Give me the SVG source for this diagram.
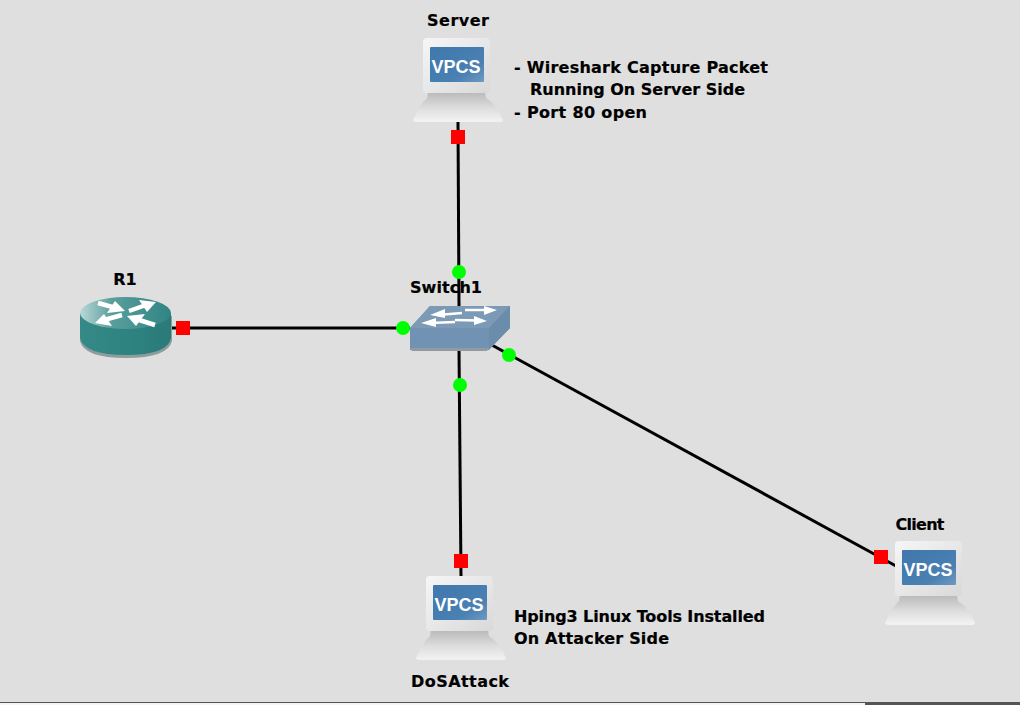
<svg xmlns="http://www.w3.org/2000/svg" width="1020" height="705" viewBox="0 0 1020 705">
<style>
text{font-family:"DejaVu Sans","Liberation Sans",sans-serif;font-weight:bold;fill:#000;stroke:#000;stroke-width:.2}
.lbl{font-size:16px;text-anchor:middle}
.note{font-size:16px}
.link{stroke:#000;stroke-width:3;fill:none}
.red{fill:#f00}
.green{fill:#0f0}
.vt{font-family:"Liberation Sans",sans-serif;font-size:18px;fill:#fff;stroke:none;text-anchor:middle}
.ar{stroke:#fff;stroke-width:2.500;fill:none}
.rar{stroke:#fff;stroke-width:4.500;fill:none}
.ah{fill:#fff}
</style>
<defs>
<linearGradient id="mon" x1="0" y1="0" x2="1" y2="1"><stop offset="0" stop-color="#f6f6f6"/><stop offset="1" stop-color="#d9d9d9"/></linearGradient>
<linearGradient id="base" x1="0" y1="0" x2="0" y2="1"><stop offset="0" stop-color="#b9b9b9"/><stop offset="0.55" stop-color="#dedede"/><stop offset="1" stop-color="#f3f3f3"/></linearGradient>
<linearGradient id="scr" x1="0" y1="0" x2="1" y2="1"><stop offset="0" stop-color="#3f78ad"/><stop offset="0.7" stop-color="#4a80b2"/><stop offset="1" stop-color="#6f9ac2"/></linearGradient>
<linearGradient id="rtop" x1="0" y1="0" x2="1" y2="0"><stop offset="0" stop-color="#b9d8d7"/><stop offset="0.35" stop-color="#5a9e9c"/><stop offset="1" stop-color="#2f8583"/></linearGradient>
<linearGradient id="rside" x1="0" y1="0" x2="1" y2="0"><stop offset="0" stop-color="#358a88"/><stop offset="0.6" stop-color="#2d8280"/><stop offset="1" stop-color="#2a7a78"/></linearGradient>
<symbol id="vpcs" viewBox="0 0 92 85" width="92" height="85" overflow="visible">
<path d="M16 54 H73 L74 60 Q84 66 91 82 Q91 84 86 84 H6 Q1 84 1 82 Q8 66 15 60Z" fill="url(#base)"/>
<rect x="11" y="0" width="67" height="55" rx="4" fill="url(#mon)"/>
<rect x="18" y="9" width="54" height="35" rx="1" fill="url(#scr)"/>
<text class="vt" x="44" y="35">VPCS</text>
</symbol>
</defs>
<rect width="1020" height="705" fill="#dfdfdf"/>
<rect x="0" y="702" width="1020" height="1" fill="#555"/>
<rect x="0" y="703" width="865" height="2" fill="#f4f4f4"/>
<rect x="865" y="702" width="155" height="3" fill="#555"/>

<g id="connectors">
<line class="link" x1="458" y1="122" x2="459" y2="306"/>
<line class="link" x1="172" y1="328" x2="410" y2="328"/>
<line class="link" x1="459" y1="349" x2="461" y2="576"/>
<line class="link" x1="490" y1="344" x2="896" y2="566"/>
<rect class="red" x="451" y="130" width="14" height="14"/>
<circle class="green" cx="459" cy="272" r="7"/>
<rect class="red" x="176" y="321" width="14" height="14"/>
<circle class="green" cx="403" cy="328" r="7"/>
<circle class="green" cx="460" cy="385" r="7"/>
<rect class="red" x="454" y="554" width="14" height="14"/>
<circle class="green" cx="509" cy="355" r="7"/>
<rect class="red" x="874" y="550" width="14" height="14"/>
</g>

<g id="Server">
<use href="#vpcs" x="412" y="38"/>
<text class="lbl" x="458" y="26" textLength="62">Server</text>
</g>
<g id="R1">
<path d="M80 316 V341 Q84 358 126 358 Q168 358 172 341 V316Z" fill="#8d9d9c"/>
<path d="M80 313 V338 Q84 355 126 355 Q168 355 171 338 V313Z" fill="url(#rside)"/>
<ellipse cx="125.500" cy="313" rx="45.500" ry="16" fill="url(#rtop)"/>
<line class="rar" x1="98" y1="303" x2="116" y2="308"/>
<path class="ah" d="M125 311 L107 313 L115 301Z"/>
<line class="rar" x1="129" y1="311" x2="146" y2="305"/>
<path class="ah" d="M156 302 L139 300 L147 312Z"/>
<line class="rar" x1="122" y1="315" x2="104" y2="320"/>
<path class="ah" d="M95 323 L112 326 L104 314Z"/>
<line class="rar" x1="155" y1="325" x2="136" y2="319"/>
<path class="ah" d="M127 316 L145 314 L136 326Z"/>
<text class="lbl" x="125" y="285">R1</text>
</g>
<g id="Switch1">
<path d="M410 328 L430 306 H510 V328 L489 350 H410Z" fill="#7592ae"/>
<path d="M410 328 L430 306 H510 L489 328Z" fill="#7c99b5"/>
<path d="M489 328 L510 306 V328 L489 349Z" fill="#6c8cab"/>
<rect x="410" y="328" width="79" height="20" fill="#7192b3"/>
<path d="M410 348 H489 L487 351 H412Z" fill="#8f9aa3"/>
<line class="ar" x1="462" y1="313" x2="438" y2="315"/>
<path class="ah" d="M430 315 L445 309 L445 318Z"/>
<line class="ar" x1="465" y1="310" x2="488" y2="310"/>
<path class="ah" d="M497 310 L484 306 L484 315Z"/>
<line class="ar" x1="455" y1="322" x2="430" y2="323"/>
<path class="ah" d="M421 323 L436 318 L436 327Z"/>
<line class="ar" x1="455" y1="320" x2="478" y2="320.500"/>
<path class="ah" d="M487 321 L474 316 L474 325Z"/>
<text class="lbl" x="446" y="293" textLength="72">Switch1</text>
</g>
<g id="DoSAttack">
<use href="#vpcs" x="415" y="576"/>
<text class="lbl" x="460" y="687" textLength="98">DoSAttack</text>
</g>
<g id="Client">
<use href="#vpcs" x="884" y="541"/>
<text class="lbl" x="920" y="530" textLength="49">Client</text>
</g>
<g id="notes">
<text class="note" x="514" y="73" textLength="254">- Wireshark Capture Packet</text>
<text class="note" x="530" y="95" textLength="215">Running On Server Side</text>
<text class="note" x="514" y="118" textLength="133">- Port 80 open</text>
<text class="note" x="514" y="622" textLength="251">Hping3 Linux Tools Installed</text>
<text class="note" x="514" y="644" textLength="155">On Attacker Side</text>
</g>
</svg>
